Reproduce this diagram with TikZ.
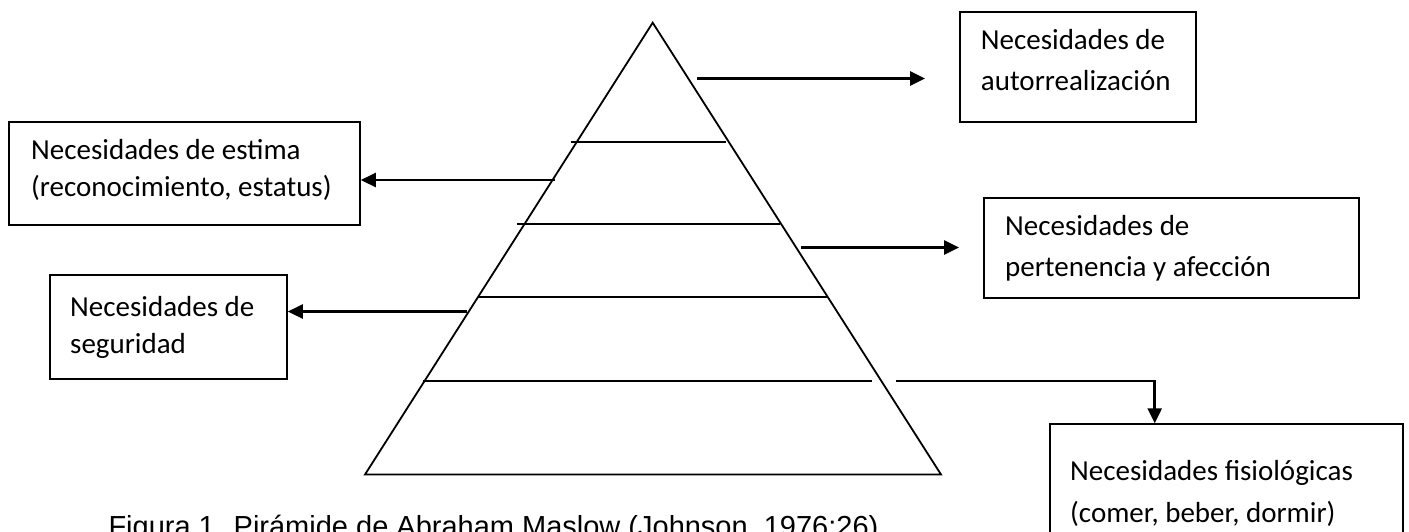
\documentclass[tikz,border=0pt]{standalone}
\usepackage{fontspec}
\setmainfont{Carlito}
\newfontfamily\capfont{Liberation Sans}
\usetikzlibrary{arrows.meta}
\begin{document}
\begin{tikzpicture}[x=1pt,y=-1pt,
  pyr/.style={line width=1.8pt,line join=miter},
  layer/.style={line width=2pt},
  conn/.style={line width=2.6pt,-{Triangle[length=15pt,width=14pt]}},
  boxn/.style={draw,line width=1.8pt,inner sep=0pt,anchor=north west},
  lbl/.style={anchor=base west,inner sep=0pt,align=left,font=\fontsize{29}{#1}\selectfont},
  captext/.style={anchor=base west,inner sep=0pt,font=\capfont\fontsize{29}{34}\selectfont}
]
\path[use as bounding box] (0,0) rectangle (1409,531);
\clip (0,0) rectangle (1409,531);

% boxes
\node[boxn,minimum width=236pt,minimum height=110pt] (auto) at (959,10.7) {};
\node[boxn,minimum width=375.3pt,minimum height=100pt] (pert) at (982.7,197) {};
\node[boxn,minimum width=353pt,minimum height=117pt] (fisio) at (1049,423.3) {};
\node[boxn,minimum width=351pt,minimum height=103.6pt] (estima) at (8,120.7) {};
\node[boxn,minimum width=237pt,minimum height=104pt] (segur) at (49,274) {};

% texts (anchor at baseline of last line)
\node[lbl=41.5] (tauto) at (980.7,90.8) {Necesidades de\\autorrealización};
\node[lbl=41.5] (tpert) at (1005,276.5) {Necesidades de\\pertenencia y afección};
\node[lbl=41.5] (tfisio) at (1070,522.2) {Necesidades fisiológicas\\(comer, beber, dormir)};
\node[lbl=37] (testima) at (31,196.5) {Necesidades de estima\\(reconocimiento, estatus)};
\node[lbl=37] (tsegur) at (70,353) {Necesidades de\\seguridad};
\node[captext] (caption) at (108.3,536) {Figura 1. Pirámide de Abraham Maslow (Johnson, 1976:26)};

% pyramid
\coordinate (apex) at (652.7,22.7);
\coordinate (bl) at (365,474.5);
\coordinate (br) at (941,474.5);
\draw[pyr] (apex) -- (bl) -- (br) -- cycle;
\draw[layer] (570.7,142) -- (726,142);
\draw[layer] (517,224) -- (780,224);
\draw[layer] (478,296.7) -- (827,296.7);
\draw[layer] (423,381) -- (872,381);

% connectors
\coordinate (s1) at (697,78.5);
\coordinate (e1) at (925,78.5);
\draw[conn] (s1) -- (e1);
\coordinate (s2) at (555,180);
\draw[conn] (s2) -- (s2 -| estima.east);
\coordinate (s3) at (800.7,247.5);
\coordinate (e3) at (959,247.5);
\draw[conn] (s3) -- (e3);
\coordinate (s4) at (466.7,311.5);
\draw[conn] (s4) -- (s4 -| segur.east);
\coordinate (s5) at (896,381);
\coordinate (k5) at (1154.7,381);
\draw[conn] (s5) -- (k5) -- (k5 |- fisio.north);
\end{tikzpicture}
\end{document}
